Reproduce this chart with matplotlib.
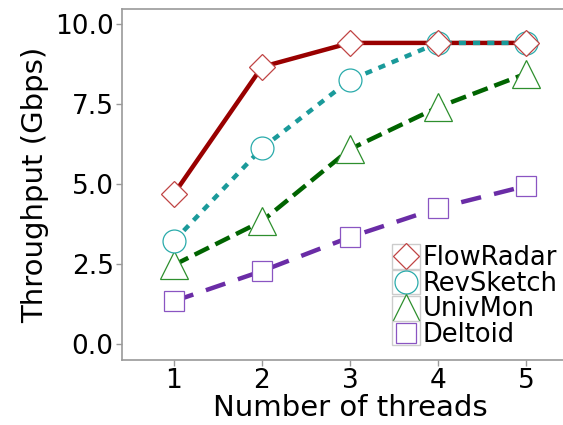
import matplotlib
matplotlib.use("Agg")
import matplotlib.pyplot as plt
from matplotlib.lines import Line2D
from matplotlib.patches import Rectangle
from matplotlib.legend_handler import HandlerBase

threads = [1, 2, 3, 4, 5]
flowradar = [4.69, 8.66, 9.41, 9.41, 9.41]
revsketch = [3.22, 6.12, 8.25, 9.41, 9.41]
univmon = [2.47, 3.84, 6.09, 7.40, 8.45]
deltoid = [1.34, 2.28, 3.34, 4.25, 4.94]
names = ["FlowRadar", "RevSketch", "UnivMon", "Deltoid"]
yticks = [0.0, 2.5, 5.0, 7.5, 10.0]

plt.rcParams['font.family'] = ['DejaVu Sans']

series = [
    (flowradar, "#990000", "#c04444", "D", 13.7, None),
    (revsketch, "#1a9a9a", "#2aabab", "o", 16.5, (1.6, 1.6)),
    (univmon, "#006400", "#2e8f2e", "^", 20, (3.6, 1.6)),
    (deltoid, "#6a2ca6", "#8a55c2", "s", 14.5, (4.6, 3.0)),
]

fig = plt.figure(figsize=(5.63, 4.25), dpi=100)
ax = fig.add_axes([122/563, 1-360/425, 456/563, 351/425])

handles = []
for i, ((vals, lc, mc, mk, ms, dash), name) in enumerate(zip(series, names)):
    line, = ax.plot(threads, vals, color=lc, lw=3.2, solid_capstyle='butt',
                    dash_capstyle='butt', zorder=2 + 0.1 * i)
    if dash is not None:
        line.set_dashes(dash)
    ax.plot(threads, vals, ls='none', marker=mk, ms=ms, mfc='white', mec=mc,
            mew=0.9, zorder=4 - 0.1 * i)
    handles.append(Line2D([], [], ls='none', marker=mk, ms=ms, mfc='white',
                          mec=mc, mew=0.9, label=name))


class KeyHandler(HandlerBase):
    def create_artists(self, legend, orig, xdescent, ydescent, width, height,
                       fontsize, trans):
        rect = Rectangle((-xdescent, -ydescent), width, height,
                         facecolor='white', edgecolor='#cccccc', lw=1.0,
                         transform=trans)
        mk = Line2D([width/2 - xdescent], [height/2 - ydescent], ls='none',
                    marker=orig.get_marker(), ms=orig.get_markersize(),
                    mfc='white', mec=orig.get_markeredgecolor(),
                    mew=orig.get_markeredgewidth(), transform=trans)
        return [rect, mk]


leg = ax.legend(handles=handles, handler_map={Line2D: KeyHandler()},
                loc='lower left', bbox_to_anchor=(0.592, 0.034),
                frameon=False, fontsize=18.5, handlelength=1.08,
                handleheight=1.08, handletextpad=0.1, labelspacing=-0.05,
                borderpad=0, borderaxespad=0)
leg.set_zorder(5)

ax.set_xlim(0.41, 5.59)
ax.set_ylim(-0.5, 10.47)
ax.set_xticks(threads)
ax.set_yticks(yticks)
ax.set_yticklabels([f"{v:.1f}" for v in yticks])
for s in ax.spines.values():
    s.set_color('#999999')
    s.set_linewidth(1.2)
ax.spines['right'].set_visible(False)
ax.tick_params(axis='both', colors='#999999', labelcolor='black',
               labelsize=19, length=4, width=1.0, pad=2)
ax.set_xlabel("Number of threads", fontsize=21, labelpad=0)
ax.set_ylabel("Throughput (Gbps)", fontsize=21, labelpad=4)

fig.savefig("out.png", dpi=100)
